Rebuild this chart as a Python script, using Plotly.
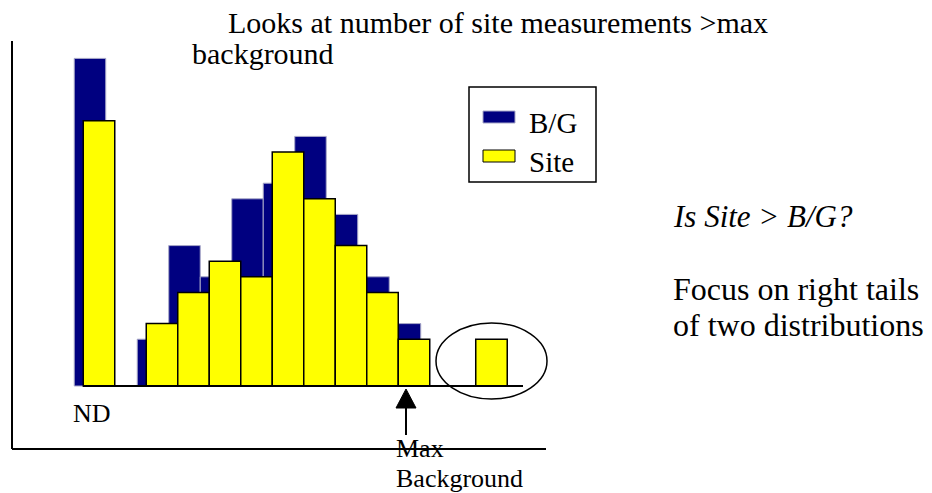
import plotly.graph_objects as go

# ---- data ----
bin_pos = [0, 1, 2, 3, 4, 5, 6, 7, 8, 9, 10]          # 0 = ND bin
bg_counts = [21, 0, 3, 9, 7, 12, 13, 16, 11, 7, 4]      # B/G
site_counts = [17, 0, 4, 6, 8, 7, 15, 12, 9, 6, 3]      # Site
outlier_pos = [12.46]
outlier_counts = [3]

W, H = 932, 493
X0PIX, XSTEP = 99, 31.5      # pixel of bin 0 centre, pixels per bin
Y0PIX, YSTEP = 386, 15.6     # baseline pixel, pixels per count
BG_SHIFT = -0.286
FONT = "Liberation Serif, Times New Roman, serif"

fig = go.Figure()
fig.add_trace(go.Bar(
    x=[p + BG_SHIFT for p in bin_pos], y=bg_counts, width=1,
    marker=dict(color="#000080", line=dict(color="#a8a8c8", width=1)),
    name="B/G", showlegend=False, xaxis="x", yaxis="y"))
fig.add_trace(go.Bar(
    x=bin_pos + outlier_pos, y=site_counts + outlier_counts, width=1,
    marker=dict(color="#ffff00", line=dict(color="black", width=1.5)),
    name="Site", showlegend=False, xaxis="x", yaxis="y"))

fig.update_layout(
    width=W, height=H, margin=dict(l=0, r=0, t=0, b=0),
    paper_bgcolor="white", plot_bgcolor="white", barmode="overlay",
    xaxis=dict(range=[-X0PIX / XSTEP, (W - X0PIX) / XSTEP], visible=False, fixedrange=True),
    yaxis=dict(range=[-(H - Y0PIX) / YSTEP, Y0PIX / YSTEP], visible=False, fixedrange=True),
    xaxis2=dict(range=[0, W], visible=False, overlaying="x", fixedrange=True),
    yaxis2=dict(range=[H, 0], visible=False, overlaying="y", fixedrange=True),
)

def line(x0, y0, x1, y1, w=2):
    fig.add_shape(type="line", xref="x2", yref="y2", x0=x0, y0=y0, x1=x1, y1=y1,
                  line=dict(color="black", width=w))

# outer axes and inner baseline
line(12, 41, 12, 449)
line(12, 449, 546, 449)
line(83, 386, 523, 386)

# ellipse around outlier
fig.add_shape(type="circle", xref="x2", yref="y2", x0=436, y0=323, x1=547, y1=399,
              line=dict(color="black", width=1.5))

# arrow
fig.add_shape(type="path", xref="x2", yref="y2", path="M 396 408 L 406 389 L 416 408 Z",
              fillcolor="black", line=dict(color="black", width=1))
line(406, 405, 406, 435, 2)

# legend box
fig.add_shape(type="rect", xref="x2", yref="y2", x0=469, y0=87, x1=596, y1=182,
              line=dict(color="black", width=1.5), fillcolor="white")
fig.add_shape(type="rect", xref="x2", yref="y2", x0=483, y0=111, x1=515, y1=123,
              line=dict(color="#a8a8c8", width=1), fillcolor="#000080")
fig.add_shape(type="rect", xref="x2", yref="y2", x0=483, y0=150, x1=515, y1=162,
              line=dict(color="black", width=1), fillcolor="#ffff00")

def text(t, x, baseline, size):
    fig.add_annotation(xref="x2", yref="y2", x=x, y=baseline - 0.32 * size, text=t,
                       showarrow=False, xanchor="left", yanchor="middle",
                       font=dict(family=FONT, size=size, color="black"))

text("Looks at number of site measurements &gt;max", 226, 32, 30)
text("background", 190, 63, 30)
text("B/G", 527, 132, 29)
text("Site", 527, 171, 29)
text("<i>Is Site &gt; B/G?</i>", 671, 226, 31)
text("Focus on right tails", 671, 299, 32)
text("of two distributions", 671, 335, 32)
text("ND", 71, 422, 26)
text("Max", 394, 457, 26)
text("Background", 394, 487, 26)

fig.write_html("out.html", config={"displayModeBar": False},
               post_script="document.body.style.margin='0';")
